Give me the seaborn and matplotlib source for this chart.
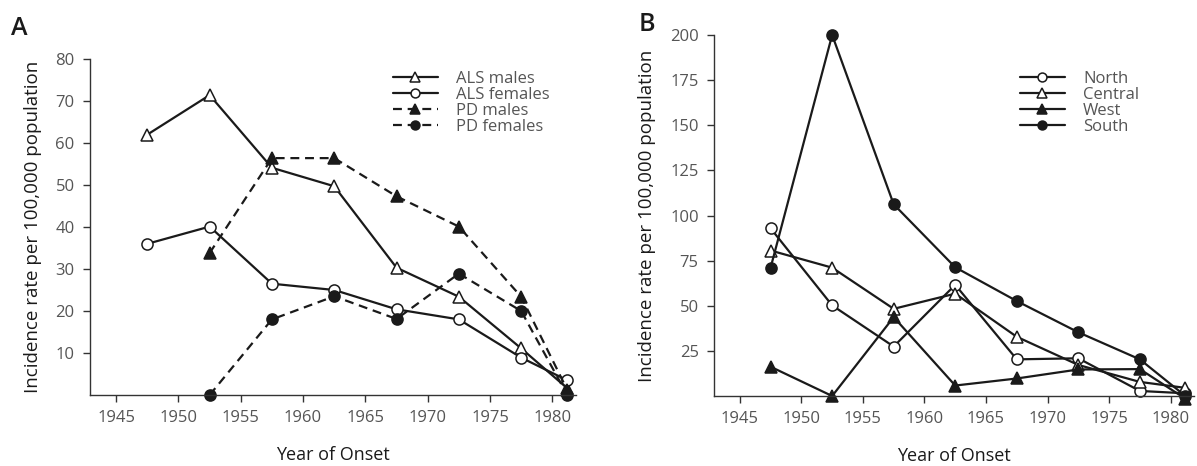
import matplotlib
matplotlib.use("Agg")
import matplotlib.pyplot as plt
import seaborn as sns
import pandas as pd

sns.set_style("ticks")
plt.rcParams['font.family'] = ['Open Sans', 'DejaVu Sans']

years = [1947.5, 1952.5, 1957.5, 1962.5, 1967.5, 1972.5, 1977.5, 1981.2]

# Panel A
als_males = [62, 71.4, 54.1, 49.7, 30.3, 23.4, 11.1, 1.6]
als_females = [36.0, 40.1, 26.5, 25.0, 20.4, 18.0, 8.9, 3.5]
pd_males = [None, 33.8, 56.4, 56.4, 47.3, 40.1, 23.4, 1.2]
pd_females = [None, 0, 18.0, 23.5, 18.1, 28.9, 20.0, 0]

# Panel B
north = [92.9, 50.2, 27.4, 61.6, 20.3, 20.9, 2.8, 1.5]
central = [80.6, 71.1, 48.3, 56.7, 32.8, 17.2, 7.8, 4.5]
west = [16.2, 0, 43.7, 5.8, 9.7, 14.7, 14.9, -1.5]
south = [71.1, 200, 106.2, 71.3, 52.6, 35.3, 20.3, 0]

xticks = [1945, 1950, 1955, 1960, 1965, 1970, 1975, 1980]
yticks_a = [10, 20, 30, 40, 50, 60, 70, 80]
yticks_b = [25, 50, 75, 100, 125, 150, 175, 200]

W, H = 1197, 466
fig = plt.figure(figsize=(W / 100, H / 100), dpi=100)
axA = fig.add_axes([90 / W, 1 - 395 / H, 486 / W, (395 - 59) / H])
axB = fig.add_axes([714 / W, 1 - 396 / H, 480 / W, (396 - 35) / H])

ink = '#1a1a1a'
dash = (0, (4, 2.6))


def draw(ax, vals, label, marker, filled, ls):
    df = pd.DataFrame({'year': years, 'val': vals}).dropna()
    sns.lineplot(data=df, x='year', y='val', ax=ax, color=ink, lw=1.6,
                 marker=marker, markersize=8 if marker == 'o' else 8.5,
                 markerfacecolor=ink if filled else 'white',
                 markeredgecolor=ink, markeredgewidth=1.1, label=label,
                 clip_on=False)
    line = ax.get_lines()[-1]
    line.set_linestyle(ls)
    return line


draw(axA, als_males, 'ALS males', '^', False, '-')
draw(axA, als_females, 'ALS females', 'o', False, '-')
draw(axA, pd_males, 'PD males', '^', True, dash)
draw(axA, pd_females, 'PD females', 'o', True, dash)

draw(axB, north, 'North', 'o', False, '-')
draw(axB, central, 'Central', '^', False, '-')
draw(axB, west, 'West', '^', True, '-')
draw(axB, south, 'South', 'o', True, '-')

for ax, yt, ylim in [(axA, yticks_a, (0, 80)), (axB, yticks_b, (0, 200))]:
    ax.set_xlim(1942.9, 1981.9)
    ax.set_ylim(*ylim)
    ax.set_xticks(xticks)
    ax.set_yticks(yt)
    ax.set_xlabel('Year of Onset', fontsize=13, color=ink, labelpad=14)
    ax.set_ylabel('Incidence rate per 100,000 population', fontsize=13.5,
                  color=ink, labelpad=10)
    ax.tick_params(axis='both', labelsize=12, colors='#333333', length=5,
                   width=1.0, labelcolor='#555555', pad=6)
    for s in ['top', 'right']:
        ax.spines[s].set_visible(False)
    for s in ['left', 'bottom']:
        ax.spines[s].set_color('#333333')
        ax.spines[s].set_linewidth(1.0)
    leg = ax.legend(frameon=False, fontsize=12, handlelength=2.7,
                    handletextpad=1.1, labelspacing=0.0, borderaxespad=0,
                    loc='upper left', markerscale=0.8)
    for t in leg.get_texts():
        t.set_color('#555555')

axA.get_legend().set_bbox_to_anchor((386 / W, 1 - 64 / H), transform=fig.transFigure)
axB.get_legend().set_bbox_to_anchor((1013 / W, 1 - 64 / H), transform=fig.transFigure)

fig.text(11 / W, 1 - 35 / H, 'A', fontsize=18, color=ink, fontweight='semibold')
fig.text(639 / W, 1 - 31 / H, 'B', fontsize=18, color=ink, fontweight='semibold')

fig.savefig('out.png', dpi=100)
